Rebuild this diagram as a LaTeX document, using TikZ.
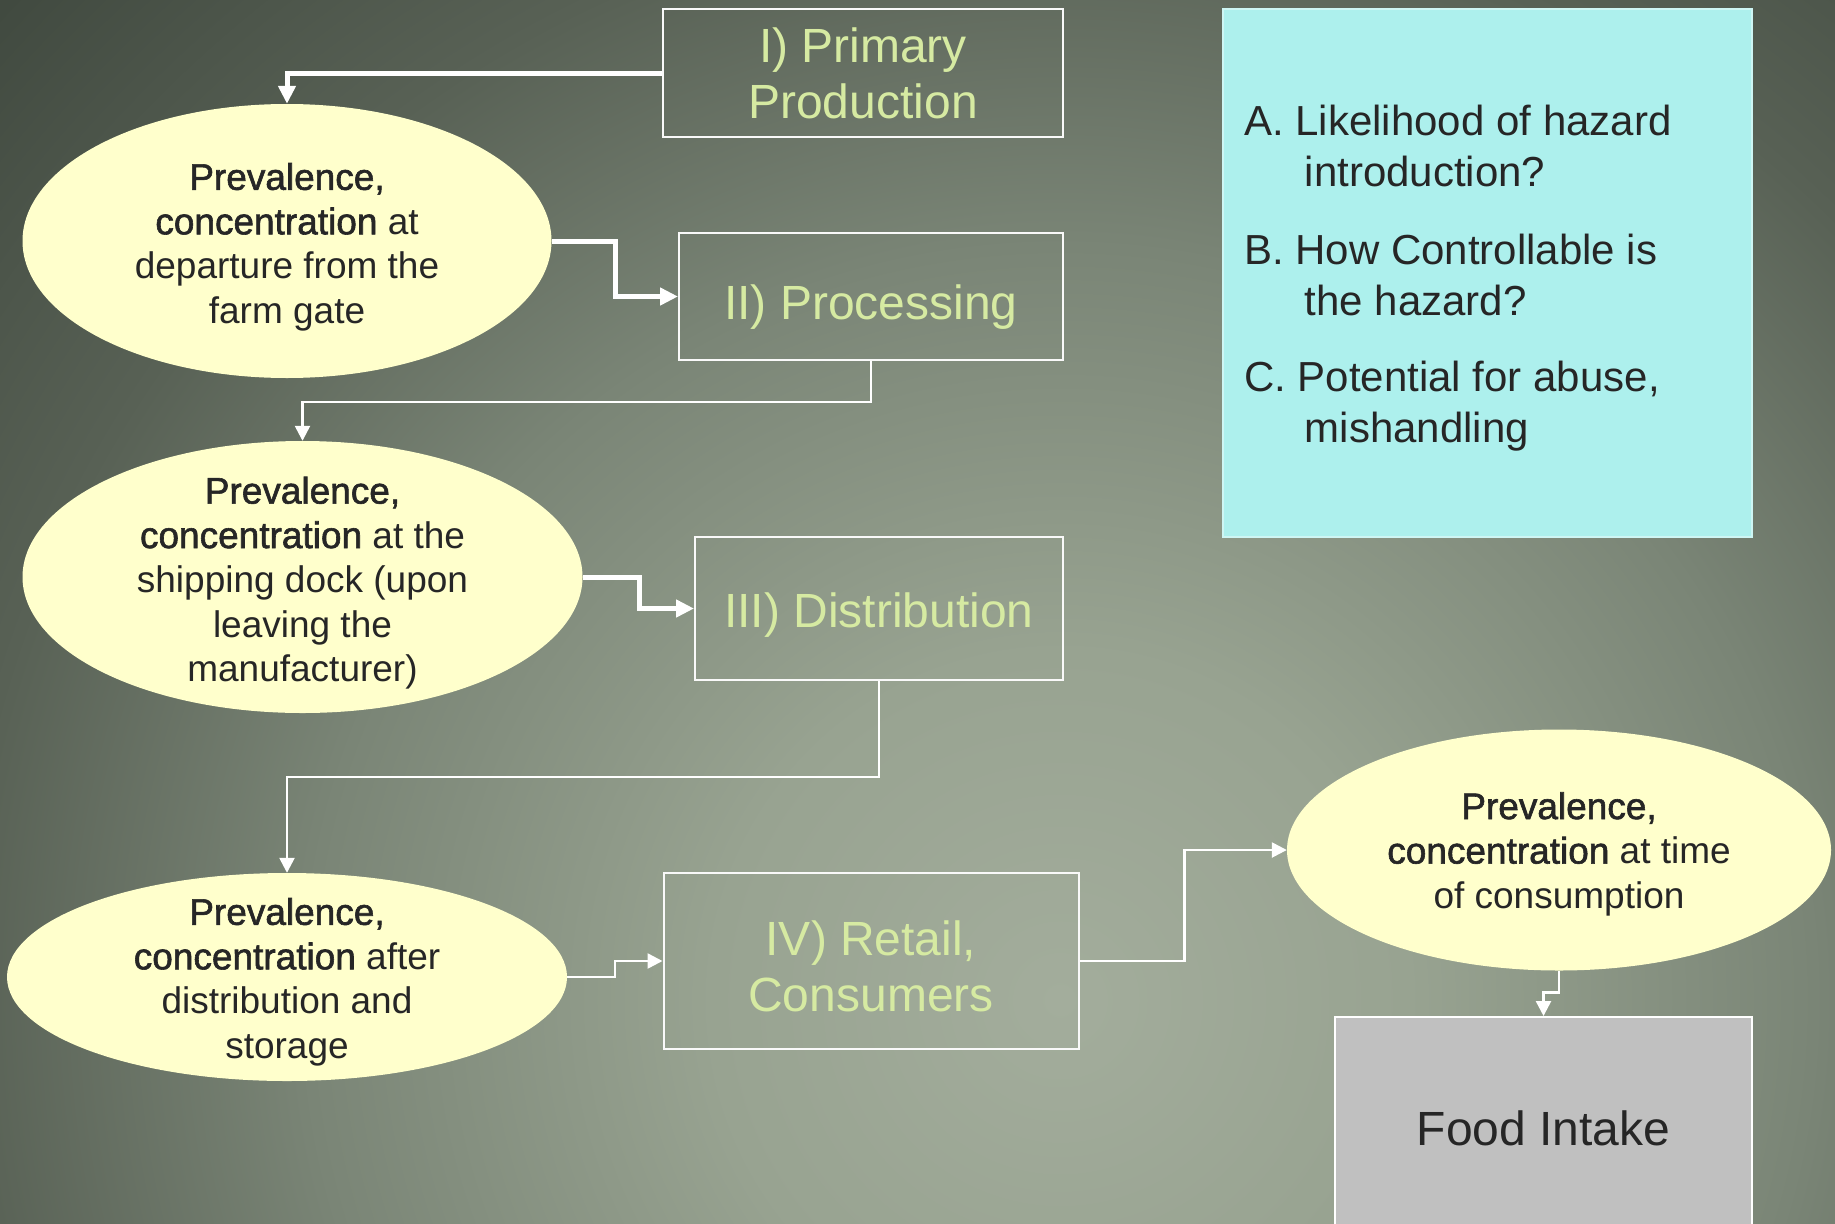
\documentclass[tikz,border=0pt]{standalone}
\usepackage{fontspec}
\setmainfont{Liberation Sans}
\newfontface\embf{Liberation Sans}[FakeBold=1.6]
\usetikzlibrary{shapes.geometric,arrows.meta,calc}
\definecolor{bgdark}{HTML}{414A40}
\definecolor{bgdim}{HTML}{586155}
\definecolor{bgmid}{HTML}{7A8576}
\definecolor{bgsoft}{HTML}{98A391}
\definecolor{bglight}{HTML}{A3AD9C}
\definecolor{boxtext}{HTML}{D6EAA2}
\definecolor{ellfill}{HTML}{FFFFCC}
\definecolor{darktext}{HTML}{262626}
\definecolor{cyanfill}{HTML}{ADF0ED}
\definecolor{foodfill}{HTML}{C0C0C0}
\pgfdeclareradialshading{bgrad}{\pgfpoint{0bp}{0bp}}{color(0bp)=(bglight); color(6bp)=(bgsoft); color(13bp)=(bgmid); color(19bp)=(bgdim); color(25bp)=(bgdark); color(50bp)=(bgdark)}
\begin{document}
\begin{tikzpicture}[x=1pt,y=-1pt,
  stagebox/.style={draw=white!95!gray, line width=2pt, inner sep=0pt},
  stagetext/.style={text=boxtext, font=\fontsize{48}{56}\selectfont, align=center, inner sep=0pt},
  ellnode/.style={ellipse, fill=ellfill, inner sep=0pt},
  elltext/.style={text=darktext, font=\fontsize{37}{44.5}\selectfont, align=center, inner sep=0pt},
  qline/.style={text=darktext, font=\fontsize{42}{51.5}\selectfont, anchor=base west, inner sep=0pt},
  thickflow/.style={draw=white, line width=5pt, -{Triangle[length=18pt,width=17pt]}},
  thinflow/.style={draw=white, line width=2.5pt, -{Triangle[length=15pt,width=15pt]}},
]
\useasboundingbox (0,0) rectangle (1835,1223);
\begin{scope}
  \clip (0,0) rectangle (1835,1223);
  \fill[bgdark] (0,0) rectangle (1835,1223);
  \shade[shading=bgrad] (1060,1000) circle (1450);
\end{scope}

% stage boxes
\node[stagebox, minimum width=400pt, minimum height=128pt] (b1) at (863,73) {};
\node[stagetext] (b1t) at (b1.center) {I) Primary\\Production};
\node[stagebox, minimum width=384pt, minimum height=127pt] (b2) at (871,296.5) {};
\node[stagetext] (b2t) at ([yshift=-10.5pt]b2.center) {II) Processing};
\node[stagebox, minimum width=368pt, minimum height=143pt] (b3) at (879,608.5) {};
\node[stagetext] (b3t) at ([yshift=-7pt]b3.center) {III) Distribution};
\node[stagebox, minimum width=415pt, minimum height=176pt] (b4) at (871,961) {};
\node[stagetext] (b4t) at ([yshift=-5pt]b4.center) {IV) Retail,\\Consumers};

% ellipses
\node[ellnode, minimum width=529pt, minimum height=274pt] (e1) at (287,241) {};
\node[elltext] (e1t) at ([yshift=-6pt]e1.center) {{\embf Prevalence,}\\{\embf concentration} at\\departure from the\\farm gate};
\node[ellnode, minimum width=560pt, minimum height=272pt] (e2) at (302.5,577) {};
\node[elltext] (e2t) at ([yshift=-6pt]e2.center) {{\embf Prevalence,}\\{\embf concentration} at the\\shipping dock (upon\\leaving the\\manufacturer)};
\node[ellnode, minimum width=560pt, minimum height=208pt] (e3) at (287,977) {};
\node[elltext] (e3t) at ([yshift=-5pt]e3.center) {{\embf Prevalence,}\\{\embf concentration} after\\distribution and\\storage};
\node[ellnode, minimum width=544pt, minimum height=241pt] (e4) at (1559,850) {};
\node[elltext] (e4t) at ([yshift=-4pt]e4.center) {{\embf Prevalence,}\\{\embf concentration} at time\\of consumption};

% question box
\node[draw=cyanfill!60!white, fill=cyanfill, line width=1.5pt, minimum width=529pt, minimum height=528pt, inner sep=0pt] (qbox) at (1487.5,273) {};
\node[qline] (qa1) at (1244,135) {A. Likelihood of hazard};
\node[qline] (qa2) at (1304.5,186.4) {introduction?};
\node[qline] (qb1) at (1244,264) {B. How Controllable is};
\node[qline] (qb2) at (1304.5,315.7) {the hazard?};
\node[qline] (qc1) at (1244,391.8) {C. Potential for abuse,};
\node[qline] (qc2) at (1304.5,442.9) {mishandling};

% food intake
\node[draw=white, fill=foodfill, line width=2pt, minimum width=417pt, minimum height=223pt, text=darktext, font=\fontsize{48}{56}\selectfont, inner sep=0pt] (food) at (1543.5,1128.5) {Food Intake};

% connectors
\draw[thickflow] (b1.west) -| (e1.north);
\draw[thickflow] (e1.east) -- ++(64,0) |- (b2.west);
\draw[thinflow] (b2.south) -- ++(0,41) -| (e2.north);
\draw[thickflow] (e2.east) -- ++(56.5,0) |- (b3.west);
\draw[thinflow] (b3.south) -- ++(0,96) -| (e3.north);
\draw[thinflow] (e3.east) -- ++(48,0) |- (b4.west);
\draw[thinflow] (b4.east) -- ++(105,0) |- (e4.west);
\draw[thinflow] (e4.south) -- ++(0,22) -| (food.north);
\end{tikzpicture}
\end{document}
